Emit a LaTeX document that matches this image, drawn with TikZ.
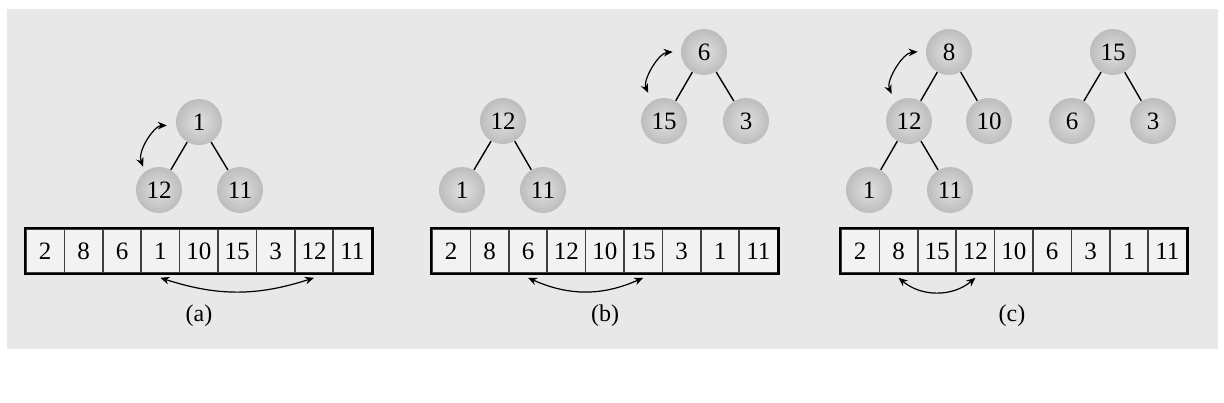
\documentclass[tikz,border=0pt]{standalone}
\usepackage{fontspec}
\setmainfont{Liberation Serif}
\usetikzlibrary{arrows.meta}

\definecolor{panelgray}{HTML}{E8E8E8}
\tikzset{
  heapnode/.style={circle, minimum size=23pt, inner sep=0pt,
    inner color=black!12, outer color=black!26,
    font=\fontsize{12.5}{14}\selectfont},
  cell/.style={draw=black!75, fill=black!5, line width=0.8pt,
    minimum width=19.2pt, minimum height=22pt, inner sep=0pt,
    font=\fontsize{12.5}{14}\selectfont},
  link/.style={line width=0.7pt},
  swaparrow/.style={{Stealth[length=4.5pt,width=3.8pt]}-{Stealth[length=4.5pt,width=3.8pt]}, line width=0.6pt},
  caption/.style={font=\fontsize{12}{14}\selectfont}
}

\begin{document}
\begin{tikzpicture}[%
        x = 0.5pt, y = -0.5pt
    ]
      \useasboundingbox (0,0) rectangle (1224,402);
      \fill[panelgray] (7,9) rectangle (1218,349);
      % (a)
      \node[heapnode] (a1) at (199,122) {1};
      \node[heapnode] (a12) at (159,190) {12};
      \node[heapnode] (a11) at (240,190) {11};
      \draw[link] (a1) -- (a12);
      \draw[link] (a1) -- (a11);
      \draw[swaparrow, shorten <=2.5pt, shorten >=4.5pt] (a12.127) to[bend left=55] (a1.188);
      \foreach \v [count=\i] in {2,8,6,1,10,15,3,12,11}
        \node[cell] (ax\i) at (6.8+38.4*\i,251) {\v};
      \draw[line width=1.1pt] (ax1.north west) rectangle (ax9.south east);
      \draw[swaparrow] ([yshift=-2pt]ax4.south) to[bend right=18] ([yshift=-2pt]ax8.south);
      \node[caption] (la) at (199,316) {(a)};
      % (b)
      \node[heapnode] (b12) at (503,121) {12};
      \node[heapnode] (b1) at (462,190) {1};
      \node[heapnode] (b11) at (543,190) {11};
      \node[heapnode] (b6) at (704,52) {6};
      \node[heapnode] (b15) at (664,121) {15};
      \node[heapnode] (b3) at (746,121) {3};
      \draw[link] (b12) -- (b1);
      \draw[link] (b12) -- (b11);
      \draw[link] (b6) -- (b15);
      \draw[link] (b6) -- (b3);
      \draw[swaparrow, shorten <=4.5pt, shorten >=4pt] (b15.121) to[bend left=55] (b6.178);
      \foreach \v [count=\i] in {2,8,6,12,10,15,3,1,11}
        \node[cell] (bx\i) at (412.8+38.4*\i,251) {\v};
      \draw[line width=1.1pt] (bx1.north west) rectangle (bx9.south east);
      \draw[swaparrow] ([yshift=-2pt]bx3.south) to[bend right=24] ([yshift=-2pt]bx6.south);
      \node[caption] (lb) at (605,316) {(b)};
      % (c)
      \node[heapnode] (c8) at (949,52) {8};
      \node[heapnode] (c12) at (909,121) {12};
      \node[heapnode] (c10) at (989,121) {10};
      \node[heapnode] (c1) at (869,190) {1};
      \node[heapnode] (c11) at (950,190) {11};
      \node[heapnode] (c15) at (1113,52) {15};
      \node[heapnode] (c6) at (1072,121) {6};
      \node[heapnode] (c3) at (1153,121) {3};
      \draw[link] (c8) -- (c12);
      \draw[link] (c8) -- (c10);
      \draw[link] (c12) -- (c1);
      \draw[link] (c12) -- (c11);
      \draw[link] (c15) -- (c6);
      \draw[link] (c15) -- (c3);
      \draw[swaparrow, shorten <=4.5pt, shorten >=4pt] (c12.126) to[bend left=55] (c8.178);
      \foreach \v [count=\i] in {2,8,15,12,10,6,3,1,11}
        \node[cell] (cx\i) at (821.8+38.4*\i,251) {\v};
      \draw[line width=1.1pt] (cx1.north west) rectangle (cx9.south east);
      \draw[swaparrow] ([yshift=-2pt]cx2.south) to[bend right=40] ([yshift=-2pt]cx4.south);
      \node[caption] (lc) at (1012,316) {(c)};
    \end{tikzpicture}
\end{document}
